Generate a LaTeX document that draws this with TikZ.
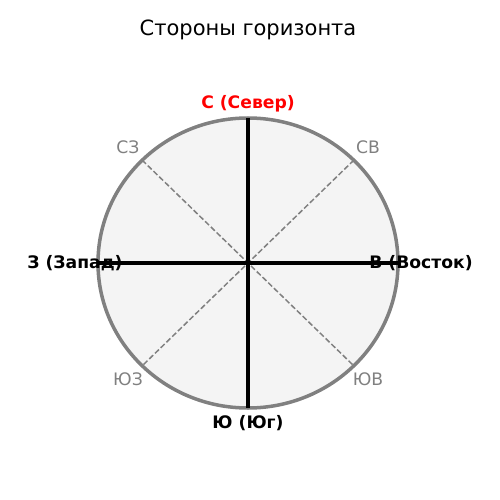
\documentclass[tikz,border=0pt]{standalone}
\usepackage{fontspec}
\setmainfont{DejaVu Sans}
\usetikzlibrary{positioning}
\definecolor{rimgray}{HTML}{808080}
\definecolor{diskfill}{HTML}{F4F4F4}
\tikzset{
  mainlbl/.style = {font=\fontsize{17.2}{20}\selectfont\bfseries, inner sep=0pt},
  sublbl/.style = {font=\fontsize{17.2}{20}\selectfont, text=rimgray, inner sep=0pt},
  axisline/.style = {black, line width=3.2pt},
  diagline/.style = {rimgray, dash pattern=on 5.5pt off 2.5pt, line width=1.5pt}
}
\begin{document}
\begin{tikzpicture}[x=1pt, y=-1pt]
\useasboundingbox (0,0) rectangle (500,500);
% disk
\draw [rimgray, fill=diskfill, line width=3.5pt] (248,263) ellipse [x radius=150, y radius=145];
\coordinate (o) at (248,263);
\coordinate (n) at (248,118);
\coordinate (s) at (248,408);
\coordinate (w) at (98,263);
\coordinate (e) at (398,263);
\coordinate (nw) at (142,160);
\coordinate (ne) at (354,160);
\coordinate (sw) at (142,366);
\coordinate (se) at (354,366);
% intercardinal
\draw [diagline] (nw) -- (se);
\draw [diagline] (ne) -- (sw);
% cardinal
\draw [axisline] (n) -- (s);
\draw [axisline] (w) -- (e);
% labels
\node [font=\fontsize{21}{25}\selectfont] (title) at (248,29.5) {Стороны горизонта};
\node [mainlbl, text=red] (north) at (248,103.5) {С (Север)};
\node [mainlbl] (south) at (248,423.5) {Ю (Юг)};
\node [mainlbl] (west) at (75,263.5) {З (Запад)};
\node [mainlbl] (east) at (421,263.5) {В (Восток)};
\node [sublbl] (nwl) at (128,147.5) {СЗ};
\node [sublbl] (nel) at (368,147.5) {СВ};
\node [sublbl] (swl) at (128,379.5) {ЮЗ};
\node [sublbl] (sel) at (368,379.5) {ЮВ};
\end{tikzpicture}
\end{document}
